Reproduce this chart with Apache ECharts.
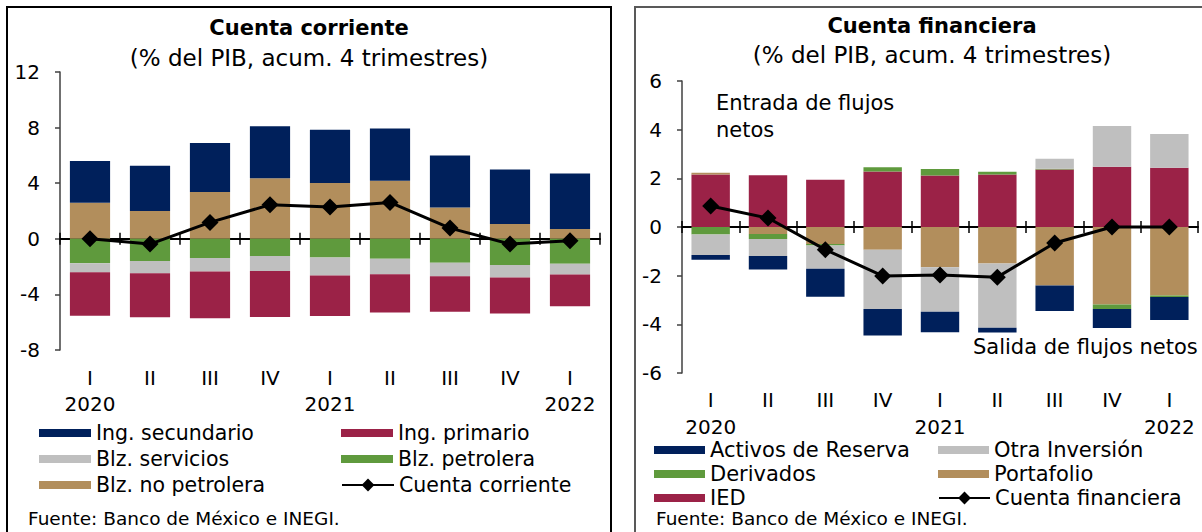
<!DOCTYPE html>
<html>
<head>
<meta charset="utf-8">
<script src="https://cdn.jsdelivr.net/npm/echarts@6/dist/echarts.min.js"></script>
<style>
  html, body { margin: 0; padding: 0; background: #fff; }
  #chart { width: 1202px; height: 532px; }
</style>
</head>
<body>
<div id="chart"></div>
<script>
// categorias (trimestres) y años
const quarters = ['I', 'II', 'III', 'IV', 'I', 'II', 'III', 'IV', 'I'];
const years = ['2020', '', '', '', '2021', '', '', '', '2022'];

// Cuenta corriente (% del PIB)
const ingSecundario = [3.0, 3.26, 3.53, 3.75, 3.83, 3.75, 3.74, 3.92, 3.99];
const ingPrimario = [-3.13, -3.17, -3.36, -3.32, -2.91, -2.76, -2.55, -2.59, -2.29];
const blzServicios = [-0.65, -0.89, -0.97, -1.08, -1.29, -1.11, -0.96, -0.91, -0.77];
const blzPetrolera = [-1.75, -1.59, -1.39, -1.23, -1.35, -1.44, -1.73, -1.88, -1.80];
const blzNoPetrolera = [2.6, 2.0, 3.37, 4.35, 4.01, 4.18, 2.26, 1.06, 0.70];
const cuentaCorriente = [0.0, -0.38, 1.18, 2.45, 2.28, 2.62, 0.77, -0.38, -0.14];

// Cuenta financiera (% del PIB)
const ied = [2.16, 2.13, 1.94, 2.28, 2.12, 2.16, 2.36, 2.48, 2.43];
const portafolio = [0.07, -0.29, -0.70, -0.93, -1.65, -1.50, -2.40, -3.18, -2.81];
const derivados = [-0.31, -0.20, -0.06, 0.18, 0.26, 0.11, 0.03, -0.19, -0.07];
const otraInversion = [-0.84, -0.70, -0.96, -2.44, -1.83, -2.64, 0.41, 1.67, 1.39];
const activosReserva = [-0.20, -0.56, -1.15, -1.09, -0.85, -0.20, -1.05, -0.78, -0.94];
const cuentaFinanciera = [0.86, 0.37, -0.93, -2.01, -1.97, -2.06, -0.66, 0.0, 0.0];

const NAVY = '#00205b', CRIMSON = '#9b2247', GRAY = '#bfbfbf', GREEN = '#5f9a3d', TAN = '#b28e5c';
const FONT = '"DejaVu Sans", sans-serif';

var myChart = echarts.init(document.getElementById('chart'), null, { renderer: 'svg' });

function labelAxis(grid, margin, lh) {
  return {
    type: 'category', gridIndex: grid, data: quarters, position: 'bottom',
    axisLine: { show: false, onZero: false },
    axisTick: { show: false },
    axisLabel: {
      interval: 0, margin: margin, fontSize: 20, lineHeight: lh, color: '#000', fontFamily: FONT,
      formatter: function (v, i) { return years[i] ? v + '\n' + years[i] : v; }
    }
  };
}
// eje en cero con marcas que cruzan la linea
function zeroAxis(grid, yIdx, inside) {
  return {
    type: 'category', gridIndex: grid, data: quarters, position: 'bottom',
    axisLine: { show: !inside, onZero: true, onZeroAxisIndex: yIdx, lineStyle: { color: '#000', width: 2 } },
    axisTick: { show: true, inside: inside, length: 6, lineStyle: { color: '#000', width: 1.5 } },
    axisLabel: { show: false }
  };
}
function valueAxis(grid, min, max, step) {
  return {
    type: 'value', gridIndex: grid, min: min, max: max, interval: step,
    axisLine: { show: true, lineStyle: { color: '#404040', width: 1.5 } },
    axisTick: { show: true, length: 5, lineStyle: { color: '#404040', width: 1.5 } },
    axisLabel: { fontSize: 20, color: '#000', margin: 20, fontFamily: FONT },
    splitLine: { show: false }
  };
}
function bar(name, data, color, xi, yi, stack) {
  return { name: name, type: 'bar', stack: stack, data: data, xAxisIndex: xi, yAxisIndex: yi,
    barWidth: '67%', itemStyle: { color: color }, emphasis: { disabled: true } };
}
function line(name, data, xi, yi) {
  return { name: name, type: 'line', data: data, xAxisIndex: xi, yAxisIndex: yi, z: 5,
    symbol: 'diamond', symbolSize: 17, lineStyle: { color: '#000', width: 3 },
    itemStyle: { color: '#000' }, emphasis: { disabled: true } };
}
function legend(left, top, names, w, h, lh, size) {
  return {
    left: left, top: top, orient: 'vertical', data: names, selectedMode: false, padding: 0,
    itemWidth: w, itemHeight: h, itemGap: 0, icon: h > 10 ? undefined : 'rect',
    textStyle: { fontSize: size, lineHeight: lh, color: '#000', fontFamily: FONT }
  };
}
function text(x, y, str, size, bold, align) {
  return { type: 'text', x: x, y: y, style: { text: str, fontSize: size, fontWeight: bold ? 'bold' : 'normal',
    fontFamily: FONT, fill: '#000', align: align || 'center', verticalAlign: 'middle' } };
}

myChart.setOption({
  animation: false,
  grid: [
    { left: 60, top: 72, width: 540, height: 278, containLabel: false, outerBoundsMode: 'none' },
    { left: 682, top: 81, width: 516, height: 292, containLabel: false, outerBoundsMode: 'none' }
  ],
  xAxis: [
    labelAxis(0, 15, 26), zeroAxis(0, 0, false), zeroAxis(0, 0, true),
    labelAxis(1, 13.5, 27), zeroAxis(1, 1, false), zeroAxis(1, 1, true)
  ],
  yAxis: [valueAxis(0, -8, 12, 4), valueAxis(1, -6, 6, 2)],
  legend: [
    legend(39, 420, ['Ing. secundario', 'Blz. servicios', 'Blz. no petrolera'], 52, 8, 26, 20.5),
    legend(341, 420, ['Ing. primario', 'Blz. petrolera'], 52, 8, 26, 20.5),
    legend(341, 472, ['Cuenta corriente'], 52, 16, 26, 20.5),
    legend(654, 438, ['Activos de Reserva', 'Derivados', 'IED'], 51, 8, 24, 21),
    legend(938, 438, ['Otra Inversión', 'Portafolio'], 51, 8, 24, 21),
    legend(938, 486, ['Cuenta financiera'], 51, 16, 24, 21)
  ],
  series: [
    bar('Blz. no petrolera', blzNoPetrolera, TAN, 0, 0, 'cc'),
    bar('Blz. petrolera', blzPetrolera, GREEN, 0, 0, 'cc'),
    bar('Blz. servicios', blzServicios, GRAY, 0, 0, 'cc'),
    bar('Ing. primario', ingPrimario, CRIMSON, 0, 0, 'cc'),
    bar('Ing. secundario', ingSecundario, NAVY, 0, 0, 'cc'),
    line('Cuenta corriente', cuentaCorriente, 0, 0),
    bar('IED', ied, CRIMSON, 3, 1, 'cf'),
    bar('Portafolio', portafolio, TAN, 3, 1, 'cf'),
    bar('Derivados', derivados, GREEN, 3, 1, 'cf'),
    bar('Otra Inversión', otraInversion, GRAY, 3, 1, 'cf'),
    bar('Activos de Reserva', activosReserva, NAVY, 3, 1, 'cf'),
    line('Cuenta financiera', cuentaFinanciera, 3, 1)
  ],
  graphic: [
    { type: 'rect', shape: { x: 7, y: 7, width: 604, height: 600 }, style: { fill: 'none', stroke: '#000', lineWidth: 2 } },
    { type: 'rect', shape: { x: 635, y: 7, width: 620, height: 600 }, style: { fill: 'none', stroke: '#595959', lineWidth: 2 } },
    text(309, 28, 'Cuenta corriente', 21, true),
    text(309, 58, '(% del PIB, acum. 4 trimestres)', 23, false),
    text(932, 26, 'Cuenta financiera', 21, true),
    text(932, 55, '(% del PIB, acum. 4 trimestres)', 23, false),
    text(716, 103, 'Entrada de flujos', 21, false, 'left'),
    text(716, 130, 'netos', 21, false, 'left'),
    text(973, 347, 'Salida de flujos netos', 21, false, 'left'),
    text(28, 518, 'Fuente: Banco de México e INEGI.', 18.5, false, 'left'),
    text(656, 518, 'Fuente: Banco de México e INEGI.', 18.5, false, 'left')
  ]
});
</script>
</body>
</html>
